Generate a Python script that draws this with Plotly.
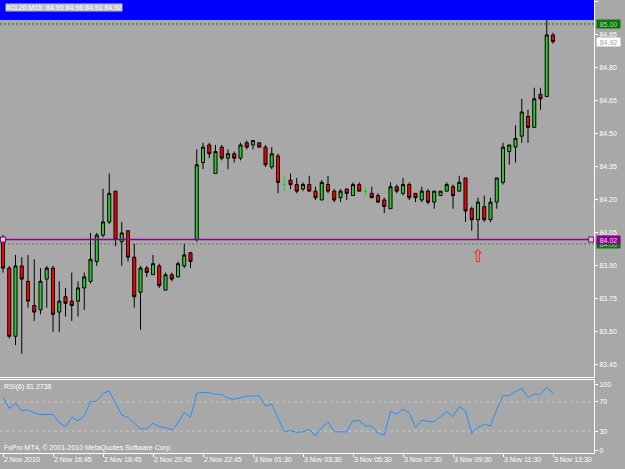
import numpy as np
import plotly.graph_objects as go

# ---------------- data ----------------
opens = [84.03, 83.89, 83.58, 83.90, 83.83, 83.72, 83.70, 83.84, 83.89, 83.69,
         83.76, 83.74, 83.74, 83.80, 83.83, 83.92, 84.04, 84.10, 84.24, 84.01,
         84.06, 83.94, 83.78, 83.89, 83.86, 83.90, 83.79, 83.86, 83.85, 83.90,
         83.96, 84.02, 84.37, 84.45, 84.32, 84.44, 84.39, 84.41, 84.39, 84.46,
         84.45, 84.46, 84.44, 84.35, 84.40, 84.27, 84.29, 84.27, 84.25, 84.27,
         84.24, 84.20, 84.27, 84.24, 84.21, 84.25, 84.22, 84.27, 84.24, 84.23,
         84.22, 84.20, 84.16, 84.26, 84.23, 84.27, 84.23, 84.20, 84.24, 84.19,
         84.22, 84.24, 84.26, 84.24, 84.30, 84.16, 84.11, 84.17, 84.11, 84.19,
         84.28, 84.42, 84.44, 84.49, 84.58, 84.53, 84.68, 84.67, 84.95]
highs = [84.04, 83.90, 83.95, 83.94, 83.95, 83.93, 83.89, 83.90, 83.90, 83.83,
         83.80, 83.87, 83.83, 83.87, 84.05, 84.05, 84.25, 84.32, 84.24, 84.10,
         84.06, 84.00, 83.90, 83.90, 83.95, 83.91, 83.87, 83.87, 83.92, 84.00,
         83.96, 84.43, 84.46, 84.46, 84.45, 84.45, 84.43, 84.42, 84.46, 84.47,
         84.47, 84.46, 84.45, 84.44, 84.41, 84.31, 84.32, 84.30, 84.28, 84.31,
         84.26, 84.29, 84.31, 84.25, 84.25, 84.25, 84.28, 84.28, 84.26, 84.26,
         84.23, 84.21, 84.28, 84.27, 84.30, 84.28, 84.23, 84.26, 84.25, 84.24,
         84.24, 84.28, 84.27, 84.31, 84.30, 84.17, 84.21, 84.22, 84.21, 84.30,
         84.46, 84.45, 84.54, 84.66, 84.61, 84.71, 84.71, 85.02, 84.96]
lows = [83.87, 83.57, 83.54, 83.50, 83.71, 83.65, 83.68, 83.71, 83.60, 83.60,
        83.67, 83.65, 83.67, 83.70, 83.82, 83.90, 84.03, 84.09, 83.99, 83.90,
        83.92, 83.71, 83.61, 83.85, 83.86, 83.80, 83.79, 83.83, 83.85, 83.89,
        83.89, 84.01, 84.34, 84.39, 84.32, 84.38, 84.34, 84.37, 84.38, 84.43,
        84.43, 84.44, 84.35, 84.34, 84.23, 84.24, 84.25, 84.23, 84.24, 84.24,
        84.20, 84.20, 84.23, 84.19, 84.19, 84.20, 84.22, 84.24, 84.22, 84.21,
        84.19, 84.14, 84.16, 84.23, 84.22, 84.20, 84.19, 84.19, 84.18, 84.16,
        84.22, 84.24, 84.16, 84.24, 84.10, 84.06, 84.02, 84.10, 84.10, 84.16,
        84.27, 84.36, 84.37, 84.46, 84.46, 84.53, 84.61, 84.67, 84.91]
closes = [83.89, 83.58, 83.90, 83.84, 83.74, 83.69, 83.83, 83.89, 83.68, 83.74,
          83.73, 83.72, 83.80, 83.85, 83.93, 84.04, 84.10, 84.23, 84.02, 84.05,
          83.94, 83.76, 83.89, 83.87, 83.91, 83.81, 83.86, 83.84, 83.91, 83.95,
          83.92, 84.36, 84.44, 84.41, 84.42, 84.39, 84.41, 84.39, 84.45, 84.44,
          84.47, 84.44, 84.36, 84.41, 84.28, 84.27, 84.27, 84.24, 84.27, 84.24,
          84.21, 84.28, 84.24, 84.20, 84.24, 84.23, 84.27, 84.24, 84.24, 84.21,
          84.19, 84.17, 84.26, 84.24, 84.27, 84.21, 84.21, 84.24, 84.19, 84.24,
          84.24, 84.27, 84.22, 84.28, 84.15, 84.11, 84.19, 84.11, 84.19, 84.30,
          84.44, 84.45, 84.48, 84.60, 84.53, 84.66, 84.66, 84.95, 84.92]
rsi = [77, 61, 68, 58, 59, 55, 52.5, 53, 53, 41.5,
       36, 49, 44, 50.7, 70.3, 71, 81.7, 85, 68, 52,
       49, 41.5, 33, 33, 40.7, 36, 35, 31.5, 41.5, 55.7,
       49, 81.7, 83, 82.7, 80.4, 80.4, 75, 73.5, 76, 78,
       78, 78, 64.4, 66.7, 47.5, 29.2, 30.6, 28.3, 29, 32.4,
       23.3, 35.2, 43, 29, 29, 29, 44.3, 44.3, 37, 37,
       27, 24.7, 56.6, 53.4, 59.8, 55, 34.7, 45.2, 43, 43,
       49.8, 56.6, 49.8, 63.5, 58, 27, 35.2, 39.3, 37, 59.8,
       78.5, 78.5, 84, 88.6, 76.3, 80.4, 80.4, 90, 81.2738]

tick_bars = [0, 8, 16, 24, 32, 40, 48, 56, 64, 72, 80, 88]
tick_labels = ["2 Nov 2010", "2 Nov 16:45", "2 Nov 18:45", "2 Nov 20:45",
               "2 Nov 22:45", "3 Nov 01:30", "3 Nov 03:30", "3 Nov 05:30",
               "3 Nov 07:30", "3 Nov 09:30", "3 Nov 11:30", "3 Nov 13:30"]
price_ticks = [85.10, 84.95, 84.80, 84.65, 84.50, 84.35, 84.20, 84.05,
               83.90, 83.75, 83.60, 83.45]
rsi_tick_pos = [93.5, 70, 30, 4]
rsi_tick_text = ["100", "70", "30", "0"]
rsi_levels = [70, 30]
green_levels = [85.00, 84.00]
purple_level = 84.02
purple_span = [0, 94.1]
arrow_bar = 76
arrow_price = 83.945
symbol_title = "#CL20,M15"

# ---------------- figure ----------------
BG = "#a8a8a8"
FONT = "Liberation Sans, Arial, sans-serif"
x = np.arange(len(opens))
o = np.array(opens); h = np.array(highs); l = np.array(lows); c = np.array(closes)
doji = np.isclose(o, c)

fig = go.Figure()
fig.add_trace(go.Candlestick(
    x=x[~doji], open=o[~doji], high=h[~doji], low=l[~doji], close=c[~doji],
    xaxis="x", yaxis="y",
    increasing=dict(fillcolor="#2ec82e", line=dict(color="#000000", width=1)),
    decreasing=dict(fillcolor="#ff0000", line=dict(color="#000000", width=1)),
    whiskerwidth=0, hoverinfo="skip"))
fig.add_trace(go.Candlestick(
    x=x[doji], open=o[doji], high=h[doji], low=l[doji], close=c[doji],
    xaxis="x", yaxis="y",
    increasing=dict(fillcolor="#2ec82e", line=dict(color="#2ec82e", width=1)),
    decreasing=dict(fillcolor="#2ec82e", line=dict(color="#2ec82e", width=1)),
    whiskerwidth=0, hoverinfo="skip"))
# purple trend line with end squares
fig.add_trace(go.Scatter(
    x=purple_span, y=[purple_level, purple_level], mode="lines+markers",
    line=dict(color="#8b008b", width=1.5),
    marker=dict(symbol="square", size=5, color="#d0d0d0",
                line=dict(color="#8b008b", width=1)),
    xaxis="x", yaxis="y", hoverinfo="skip"))
# RSI
fig.add_trace(go.Scatter(
    x=x, y=rsi, mode="lines", line=dict(color="#1e90ff", width=1),
    xaxis="x2", yaxis="y2", hoverinfo="skip"))

xr = [-0.48, 94.56]
main_dom = [(453 - 377) / 453, 1.0]
rsi_dom = [0.0, (453 - 380) / 453]

shapes = [dict(type="rect", xref="x domain", yref="y domain", x0=0, x1=1,
               y0=1 - 20 / 377, y1=1, fillcolor="#0000ff",
               line=dict(width=0), layer="above")]
green_cols = ["#1a6e1a", "#3f8f3f"]
for lv, col in zip(green_levels, green_cols):
    shapes.append(dict(type="line", xref="x domain", yref="y", x0=0, x1=1,
                       y0=lv, y1=lv, line=dict(color=col, width=1, dash="2px,2px"),
                       layer="below"))
for lv in rsi_levels:
    shapes.append(dict(type="line", xref="x2 domain", yref="y2", x0=0, x1=1,
                       y0=lv, y1=lv, line=dict(color="#c8c8c8", width=1, dash="3px,3px"),
                       layer="below"))

ann = [
    dict(text=f"{symbol_title}  {opens[-1]:.2f} {highs[-1]:.2f} {lows[-1]:.2f} {closes[-1]:.2f}",
         xref="x domain", yref="y domain", x=0, y=1, xanchor="left", yanchor="top",
         xshift=5, yshift=-3, showarrow=False, bgcolor="#c0c0c0", borderpad=0,
         font=dict(family=FONT, size=7, color="#ffffff")),
    dict(text=f"{green_levels[0]:.2f}", xref="x domain", yref="y", x=1, y=green_levels[0],
         xanchor="left", yanchor="middle", xshift=2, showarrow=False,
         bgcolor="#007a00", borderpad=0, width=23, height=8,
         font=dict(family=FONT, size=7, color="#c8c8c8")),
    dict(text=f"{closes[-1]:.2f}", xref="x domain", yref="y", x=1, y=closes[-1],
         xanchor="left", yanchor="middle", xshift=2, showarrow=False,
         bgcolor="#ffffff", borderpad=0, width=23, height=8,
         font=dict(family=FONT, size=7, color="#a0a0a0")),
    dict(text=f"{green_levels[1]:.2f}", xref="x domain", yref="y", x=1, y=green_levels[1],
         xanchor="left", yanchor="middle", xshift=2, showarrow=False,
         bgcolor="#007a00", borderpad=0, width=23, height=8,
         font=dict(family=FONT, size=7, color="#c8c8c8")),
    dict(text=f"{purple_level:.2f}", xref="x domain", yref="y", x=1, y=purple_level,
         xanchor="left", yanchor="middle", xshift=2, showarrow=False,
         bgcolor="#8b008b", borderpad=0, width=23, height=8,
         font=dict(family=FONT, size=7, color="#e0e0e0")),
    dict(text="⇧", xref="x", yref="y", x=arrow_bar, y=arrow_price, showarrow=False,
         font=dict(family="DejaVu Sans", size=17, color="#ff2020")),
    dict(text=f"RSI(6) {rsi[-1]:.4f}", xref="x2 domain", yref="y2 domain", x=0, y=1,
         xanchor="left", yanchor="top", xshift=3, yshift=-2, showarrow=False,
         borderpad=0, font=dict(family=FONT, size=7, color="#ffffff")),
    dict(text="FxPro MT4, © 2001-2010 MetaQuotes Software Corp.", xref="x2 domain",
         yref="y2 domain", x=0, y=0, xanchor="left", yanchor="bottom", xshift=3,
         yshift=0, showarrow=False, borderpad=0,
         font=dict(family=FONT, size=7, color="#ffffff")),
]

axfont = dict(family=FONT, size=7, color="#ffffff")
fig.update_layout(
    width=625, height=469, margin=dict(l=0, r=31, t=0, b=16),
    paper_bgcolor=BG, plot_bgcolor=BG, showlegend=False, hovermode=False,
    font=axfont,
    xaxis=dict(domain=[0, 1], anchor="y", range=xr, showticklabels=False,
               showgrid=False, zeroline=False, ticks="", showline=True,
               linecolor="#ffffff", linewidth=1, mirror=True,
               rangeslider=dict(visible=False)),
    yaxis=dict(domain=main_dom, anchor="x", side="right", range=[83.395, 85.109],
               tickvals=price_ticks, ticktext=[f"{v:.2f}" for v in price_ticks],
               showgrid=False, zeroline=False, ticks="outside", ticklen=3,
               tickcolor="#ffffff", showline=True, linecolor="#ffffff",
               linewidth=1, mirror=True, tickfont=axfont),
    xaxis2=dict(domain=[0, 1], anchor="y2", range=xr, tickvals=tick_bars,
                ticktext=tick_labels, ticklabelposition="outside right",
                showgrid=False, zeroline=False, ticks="outside", ticklen=3,
                tickcolor="#ffffff", showline=True, linecolor="#ffffff",
                linewidth=1, mirror=True, tickfont=axfont),
    yaxis2=dict(domain=rsi_dom, anchor="x2", side="right", range=[0, 100],
                tickvals=rsi_tick_pos, ticktext=rsi_tick_text, showgrid=False,
                zeroline=False, ticks="outside", ticklen=3, tickcolor="#ffffff",
                showline=True, linecolor="#ffffff", linewidth=1, mirror=True,
                tickfont=axfont),
    shapes=shapes, annotations=ann,
)

fig.write_html("out.html")
